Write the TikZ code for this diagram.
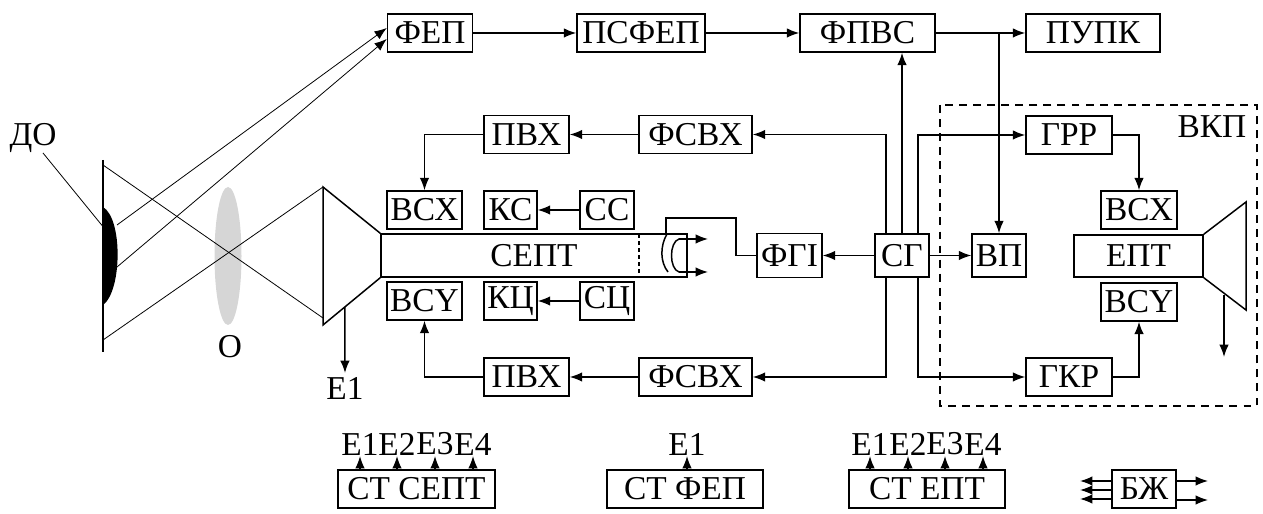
\documentclass[tikz,border=0pt]{standalone}
\usepackage{fontspec}
\setmainfont{Liberation Serif}
\usepackage{tikz}
\usetikzlibrary{arrows.meta,positioning,calc}

\tikzset{
  blk/.style={draw, line width=0.85pt, inner sep=1pt, minimum height=0.76cm},
  wire/.style={line width=0.85pt},
  ray/.style={line width=0.45pt},
  sig/.style={wire, -{Latex[length=7pt,width=5.4pt]}},
  lbl/.style={inner sep=1pt}
}

\begin{document}
\begin{tikzpicture}[font=\fontsize{19}{21}\selectfont]
\useasboundingbox (0,0) rectangle (25.26,10.28);

% top chain
\node[blk, minimum width=1.70cm] (fep)   at (8.60,9.62)  {ФЕП};
\node[blk, minimum width=2.56cm] (psfep) at (12.82,9.62) {ПСФЕП};
\node[blk, minimum width=2.70cm] (fpvs)  at (17.35,9.62) {ФПВС};
\node[blk, minimum width=2.68cm] (pupk)  at (21.86,9.62) {ПУПК};

% camera side
\node[blk, minimum width=2.26cm] (fsvxT) at (13.91,7.59) {ФСВХ};
\node[blk, minimum width=1.70cm] (pvxT)  at (10.53,7.59) {ПВХ};
\node[blk, minimum width=1.50cm] (vsxL)  at (8.49,6.08)  {ВСХ};
\node[blk, minimum width=1.06cm] (ks)    at (10.21,6.08) {КС};
\node[blk, minimum width=1.08cm] (ss)    at (12.14,6.08) {СС};
\node[blk, minimum width=6.12cm, minimum height=0.86cm] (sept) at (10.68,5.17) {СЕПТ};
\node[blk, minimum width=1.50cm] (vsyL)  at (8.49,4.26)  {ВСY};
\node[blk, minimum width=1.06cm] (kc)    at (10.21,4.26) {КЦ};
\node[blk, minimum width=1.08cm] (sc)    at (12.14,4.26) {СЦ};
\node[blk, minimum width=1.70cm] (pvxB)  at (10.53,2.74) {ПВХ};
\node[blk, minimum width=2.26cm] (fsvxB) at (13.91,2.74) {ФСВХ};
\node[blk, minimum width=1.30cm, minimum height=0.88cm] (fgi) at (15.79,5.17) {ФГІ};
\node[blk, minimum width=1.08cm, minimum height=0.86cm] (sg)  at (18.04,5.17) {СГ};

% monitor side
\node[blk, minimum width=1.08cm, minimum height=0.86cm] (vp)  at (19.98,5.17) {ВП};
\node[blk, minimum width=1.72cm] (grr)  at (21.38,7.58) {ГРР};
\node[blk, minimum width=1.52cm] (vsxR) at (22.78,6.08) {ВСХ};
\node[blk, minimum width=2.58cm, minimum height=0.84cm] (ept) at (22.77,5.16) {ЕПТ};
\node[blk, minimum width=1.52cm] (vsyR) at (22.78,4.24) {ВСY};
\node[blk, minimum width=1.72cm] (gkr)  at (21.38,2.74) {ГКР};
\draw[wire, dashed, dash pattern=on 4.5pt off 3.5pt] (18.80,8.18) rectangle (25.14,2.16);
\node[lbl] (vkp) at (24.24,7.74) {ВКП};

% kinescope bulb
\draw[wire] (ept.north east) -- (24.92,6.24) -- (24.92,4.08) -- (ept.south east);
\coordinate (scrA) at (24.48,4.38);
\coordinate (scrB) at (24.48,3.14);
\draw[sig] (scrA) -- (scrB);

% object, lens and camera tube
\coordinate (obT) at (2.06,7.08);
\coordinate (obB) at (2.06,3.24);
\draw[wire] (obT) -- (obB);
\fill (2.06,6.14) .. controls (2.46,5.90) and (2.44,4.46) .. (2.06,4.18) -- cycle;
\node[lbl] (do) at (0.66,7.52) {ДО};
\draw[ray] (0.86,7.22) -- (2.18,5.60);
\fill[black!16] (4.56,5.16) ellipse (0.27 and 1.38);
\node[lbl] (lens) at (4.60,3.34) {О};
\coordinate (cnT) at (6.46,6.54);
\coordinate (cnB) at (6.46,3.78);
\draw[wire] (sept.north west) -- (cnT) -- (cnB) -- (sept.south west);
\draw[ray] (2.06,6.98) -- (6.46,3.92);
\draw[ray] (2.06,3.48) -- (cnT);
\draw[ray, -{Latex[length=7pt,width=5.4pt]}] (2.34,5.78) -- ([yshift=0.10cm]fep.west);
\draw[ray, -{Latex[length=7pt,width=5.4pt]}] (2.34,4.94) -- ([yshift=-0.12cm]fep.west);
\coordinate (e1a) at ($(cnB)!0.38!(sept.south west)$);
\draw[sig] (e1a) -- (6.90,2.82) node[lbl, below=1pt] (e1) {E1};

% tube target end
\draw[wire, dashed, dash pattern=on 2pt off 2pt] (12.78,5.60) -- (12.78,4.74);
\draw[wire] (13.34,5.60) .. controls (13.20,5.36) and (13.20,5.04) .. (13.36,4.84);
\draw[wire] (13.74,5.50) -- (13.58,5.50) .. controls (13.38,5.44) and (13.38,4.90) .. (13.58,4.84) -- (13.74,4.84);
\draw[sig] (13.58,5.50) -- (14.16,5.50);
\draw[sig] (13.58,4.84) -- (14.16,4.84);
\draw[wire] (fgi.west) -- (14.72,5.17) -- (14.72,5.92) -- (13.32,5.92) -- (13.32,5.60);

% signal paths
\draw[sig] (fep) -- (psfep);
\draw[sig] (psfep) -- (fpvs);
\draw[sig] (fpvs) -- (pupk);
\draw[sig] (vp.north |- fpvs.east) -- (vp.north);
\draw[sig] (sg.north) -- (sg.north |- fpvs.south);
\draw[sig] ([xshift=-0.32cm]sg.north) |- (fsvxT.east);
\draw[sig] ([xshift=0.32cm]sg.north) |- (grr.west);
\draw[sig] ([xshift=-0.32cm]sg.south) |- (fsvxB.east);
\draw[sig] ([xshift=0.32cm]sg.south) |- (gkr.west);
\draw[sig] (sg) -- (fgi);
\draw[sig] (sg) -- (vp);
\draw[sig] (fsvxT) -- (pvxT);
\draw[sig] (pvxT.west) -| (vsxL.north);
\draw[sig] (fsvxB) -- (pvxB);
\draw[sig] (pvxB.west) -| (vsyL.south);
\draw[sig] (ss) -- (ks);
\draw[sig] (sc) -- (kc);
\draw[sig] (grr.east) -| (vsxR.north);
\draw[sig] (gkr.east) -| (vsyR.south);

% power supplies
\node[blk, minimum width=3.14cm] (stsept) at (8.33,0.50)  {СТ СЕПТ};
\node[blk, minimum width=3.12cm] (stfep)  at (13.70,0.50) {СТ ФЕП};
\node[blk, minimum width=3.12cm] (stept)  at (18.54,0.50) {СТ ЕПТ};
\node[blk, minimum width=1.28cm] (bzh)    at (22.88,0.50) {БЖ};
\foreach \x/\n in {7.20/1,7.94/2,8.70/3,9.46/4}{
  \draw[sig] (\x,0.88) -- (\x,1.16) node[lbl, above=-1pt] (sa\n) {E\n};
}
\draw[sig] (13.74,0.88) -- (13.74,1.16) node[lbl, above=-1pt] (fa1) {E1};
\foreach \x/\n in {17.40/1,18.16/2,18.90/3,19.66/4}{
  \draw[sig] (\x,0.88) -- (\x,1.16) node[lbl, above=-1pt] (ea\n) {E\n};
}
\foreach \y in {0.66,0.48,0.30}{
  \draw[sig] (bzh.west |- 0,\y) -- (21.60,\y);
}
\foreach \y in {0.66,0.28}{
  \draw[sig] (bzh.east |- 0,\y) -- (24.16,\y);
}
\end{tikzpicture}
\end{document}
